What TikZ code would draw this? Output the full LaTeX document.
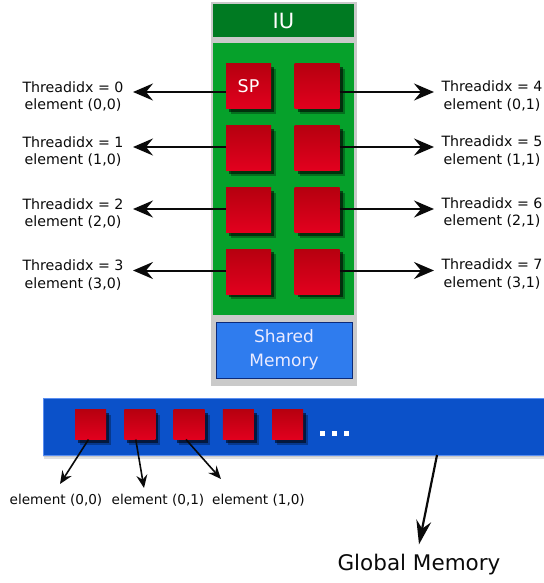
\documentclass[tikz,border=0pt]{standalone}
\usepackage{fontspec}
\setmainfont{DejaVu Sans}
\usetikzlibrary{arrows.meta,shadows}

\definecolor{panelgray}{HTML}{CACACA}
\definecolor{iugreen}{HTML}{007A22}
\definecolor{blockgreen}{HTML}{06A12B}
\definecolor{spdark}{HTML}{B6000F}
\definecolor{splight}{HTML}{E2001E}
\definecolor{smblue}{HTML}{2F7CEE}
\definecolor{smedge}{HTML}{0B2A7A}
\definecolor{gmblue}{HTML}{0B51C9}
\definecolor{gmedge}{HTML}{5A8EF0}
\definecolor{inktext}{HTML}{0A0A0A}

\begin{document}
\begin{tikzpicture}[x=1pt,y=-1pt,
  cell/.style={inner sep=0pt, outer sep=0pt, draw=none,
    top color=spdark, bottom color=splight,
    general shadow={fill=black, opacity=.30, shadow xshift=5pt, shadow yshift=-5pt},
    general shadow={fill=black, opacity=.55, shadow xshift=3pt, shadow yshift=-3pt}},
  spcell/.style={cell, minimum width=45pt, minimum height=45pt},
  gcell/.style={cell, minimum width=31pt, minimum height=30pt},
  dot/.style={fill=white, inner sep=0pt, minimum size=5pt},
  lbl/.style={inner sep=0pt, align=center, text=inktext,
    font=\fontsize{14.2}{17.5}\selectfont},
  blbl/.style={inner sep=0pt, text=inktext, font=\fontsize{13.6}{16}\selectfont},
  bigarr/.style={line width=2pt, draw=inktext,
    -{Stealth[length=20pt, width=17pt, inset=7pt]}},
  smallarr/.style={line width=1.6pt, draw=inktext,
    -{Stealth[length=13pt, width=11pt, inset=4.5pt]}},
  gmarr/.style={line width=2.2pt, draw=inktext,
    -{Stealth[length=24pt, width=15pt, inset=8pt]}}]

\useasboundingbox (0,0) rectangle (543,583);

% streaming multiprocessor: frame, instruction unit, SP array, shared memory
\node[fill=panelgray, minimum width=146pt, minimum height=384pt, inner sep=0pt]
  (sm) at (284,194) {};
\node[fill=iugreen, minimum width=141pt, minimum height=33pt, inner sep=0pt,
  text=white, font=\fontsize{21}{24}\selectfont] (iu) at (283.5,20.5) {IU};
\node[fill=blockgreen, minimum width=141pt, minimum height=272pt, inner sep=0pt]
  (spblock) at (283.5,179) {};
\node[fill=smblue, draw=smedge, line width=1pt, minimum width=136pt,
  minimum height=56pt, inner sep=0pt, align=center, text=white!92!blue,
  font=\fontsize{17}{24}\selectfont] (shmem) at (284,350) {Shared\\Memory};

% row positions of the SP array and of the thread labels
\foreach \r/\cy/\ly in {0/86.5/96.5, 1/148/151.5, 2/210/213.5, 3/271.5/275}{
  \node[spcell] (sp\r0) at (248.5,\cy) {};
  \node[spcell] (sp\r1) at (317,\cy) {};
  \coordinate (tipL\r) at (133,\ly-4.5);
  \coordinate (tipR\r) at (434,\ly-4.5);
}
\node[text=white, font=\fontsize{17.5}{20}\selectfont] at (sp00) {SP};

% thread labels
\node[lbl] (tl0) at (73,96.5)  {Threadidx = 0\\element (0,0)};
\node[lbl] (tl1) at (73,151.5) {Threadidx = 1\\element (1,0)};
\node[lbl] (tl2) at (73,213.5) {Threadidx = 2\\element (2,0)};
\node[lbl] (tl3) at (73,275)   {Threadidx = 3\\element (3,0)};
\node[lbl] (tr0) at (492,96)   {Threadidx = 4\\element (0,1)};
\node[lbl] (tr1) at (492,151)  {Threadidx = 5\\element (1,1)};
\node[lbl] (tr2) at (492,212.5){Threadidx = 6\\element (2,1)};
\node[lbl] (tr3) at (492,274)  {Threadidx = 7\\element (3,1)};

\foreach \r in {0,1,2,3}{
  \draw[bigarr] (sp\r0.west |- tipL\r) -- (tipL\r);
  \draw[bigarr] (sp\r1.east |- tipR\r) -- (tipR\r);
}

% global memory strip
\node[fill=gmblue, draw=gmedge, line width=0.8pt, minimum width=502pt,
  minimum height=57pt, inner sep=0pt,
  general shadow={fill=black, opacity=.12, shadow yshift=-4pt, shadow xshift=1pt},
  general shadow={fill=black, opacity=.10, shadow yshift=-2pt}]
  (gm) at (294,426.5) {};
\foreach \i in {0,...,4}{
  \node[gcell] (g\i) at (90.5+49.25*\i,424.5) {};
}
\node[dot] (d1) at (322.5,433.5) {};
\node[dot] (d2) at (334.5,433.5) {};
\node[dot] (d3) at (346.5,433.5) {};

% element labels under the strip
\node[blbl] (e0) at (56,500)    {element (0,0)};
\node[blbl] (e1) at (158,500)   {element (0,1)};
\node[blbl] (e2) at (258.5,500) {element (1,0)};
\coordinate (t0) at (60,484);
\coordinate (t1) at (144,488);
\coordinate (t2) at (221,479);
\draw[smallarr] ([xshift=-2pt]g0.south) -- (t0);
\draw[smallarr] ([xshift=-4pt]g1.south) -- (t1);
\draw[smallarr] ([xshift=-3pt]g2.south) -- (t2);

\node[inner sep=0pt, text=inktext, font=\fontsize{21.5}{24}\selectfont]
  (gmlabel) at (419,565) {Global Memory};
\coordinate (gsrc) at (437,455);
\draw[gmarr] (gsrc) -- ([yshift=10pt]gmlabel.north);
\end{tikzpicture}
\end{document}
